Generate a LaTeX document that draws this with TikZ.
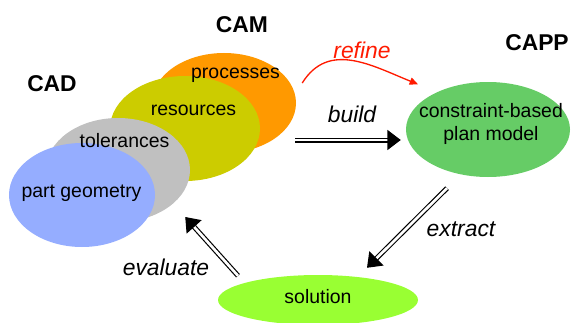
\documentclass[tikz,border=0pt]{standalone}
\usepackage{fontspec}
\setmainfont{Liberation Sans}
\usetikzlibrary{shapes.geometric,arrows.meta}
\definecolor{procorange}{HTML}{FF9900}
\definecolor{resolive}{HTML}{CCCC00}
\definecolor{tolgray}{HTML}{C0C0C0}
\definecolor{geoblue}{HTML}{95ADFF}
\definecolor{plangreen}{HTML}{66CC66}
\definecolor{sollime}{HTML}{99FF33}
\definecolor{refinered}{HTML}{FF1A00}
\tikzset{
  blob/.style={ellipse, draw=none, inner sep=0pt},
  bodytext/.style={inner sep=0pt, font=\fontsize{16.6}{19.6}\selectfont, align=center},
  areatext/.style={inner sep=0pt, font=\fontsize{19.5}{22}\selectfont\bfseries},
  verbtext/.style={inner sep=0pt, font=\fontsize{19.5}{22}\selectfont\itshape},
  dblarrow/.style={double, double distance=0.08cm, line width=0.035cm,
    -{Triangle[length=0.4cm,width=0.6cm]}},
}
\begin{document}
\begin{tikzpicture}
                    \useasboundingbox (0,0) rectangle (17.190000,9.660000);
                    
                    % Drawing ellipse processes
                    \node [blob, fill=procorange, minimum width=4.320000cm, minimum height=3.000000cm] (proc) at (6.720000,6.570000) {};%
                    
                    % Drawing ellipse resources
                    \node [blob, fill=resolive, minimum width=4.500000cm, minimum height=3.150000cm] (res) at (5.550000,5.805000) {};%
                    
                    % Drawing ellipse tolerances
                    \node [blob, fill=tolgray, minimum width=4.320000cm, minimum height=3.120000cm] (tol) at (3.540000,4.560000) {};%
                    
                    % Drawing ellipse part geometry
                    \node [blob, fill=geoblue, minimum width=4.380000cm, minimum height=3.120000cm] (geo) at (2.460000,3.810000) {};%
                    
                    % Drawing ellipse plan model
                    \node [blob, fill=plangreen, minimum width=4.920000cm, minimum height=2.850000cm] (plan) at (14.640000,5.775000) {};%
                    
                    % Drawing ellipse solution
                    \node [blob, fill=sollime, minimum width=6.000000cm, minimum height=1.500000cm] (sol) at (9.540000,0.660000) {};%
                    
                    % Marking texts in ellipses
                    \node [bodytext] (proctext) at (7.065000,7.410000) {processes};%
                    \node [bodytext] (restext) at (5.805000,6.360000) {resources};%
                    \node [bodytext] (toltext) at (3.735000,5.430000) {tolerances};%
                    \node [bodytext] (geotext) at (2.445000,3.870000) {part geometry};%
                    \node [bodytext] (plantext) at (14.730000,5.955000) {constraint-based\\plan model};%
                    \node [bodytext] (soltext) at (9.540000,0.750000) {solution};%
                    
                    % Marking areas
                    \node [areatext] (cam) at (7.260000,8.910000) {CAM};%
                    \node [areatext] (cad) at (1.560000,7.140000) {CAD};%
                    \node [areatext] (capp) at (16.110000,8.370000) {CAPP};%
                    
                    % Drawing arrow refine
                    \draw [line width=0.04cm, refinered, -{Triangle[length=0.25cm,width=0.22cm]}] ([xshift=0.180000cm,yshift=0.600000cm]proc.east) to [out=58,in=158,looseness=1.1] ([xshift=-2.100000cm,yshift=-0.075000cm]plan.north);%
                    \node [verbtext, refinered] (refine) at (10.860000,8.160000) {refine};%
                    
                    % Drawing arrow build
                    \draw [dblarrow] ([xshift=1.050000cm,yshift=-0.345000cm]res.east) -- ([xshift=-0.150000cm,yshift=-0.315000cm]plan.west);%
                    \node [verbtext] (build) at (10.560000,6.240000) {build};%
                    
                    % Drawing arrow extract
                    \draw [dblarrow] ([xshift=-1.230000cm,yshift=-0.330000cm]plan.south) -- ([xshift=1.470000cm,yshift=0.210000cm]sol.north);%
                    \node [verbtext] (extract) at (13.830000,2.790000) {extract};%
                    
                    % Drawing arrow evaluate
                    \draw [dblarrow] ([xshift=-2.400000cm,yshift=-0.030000cm]sol.north) -- ([xshift=0.900000cm,yshift=-0.660000cm]geo.east);%
                    \node [verbtext] (evaluate) at (4.980000,1.650000) {evaluate};%
\end{tikzpicture}
\end{document}
